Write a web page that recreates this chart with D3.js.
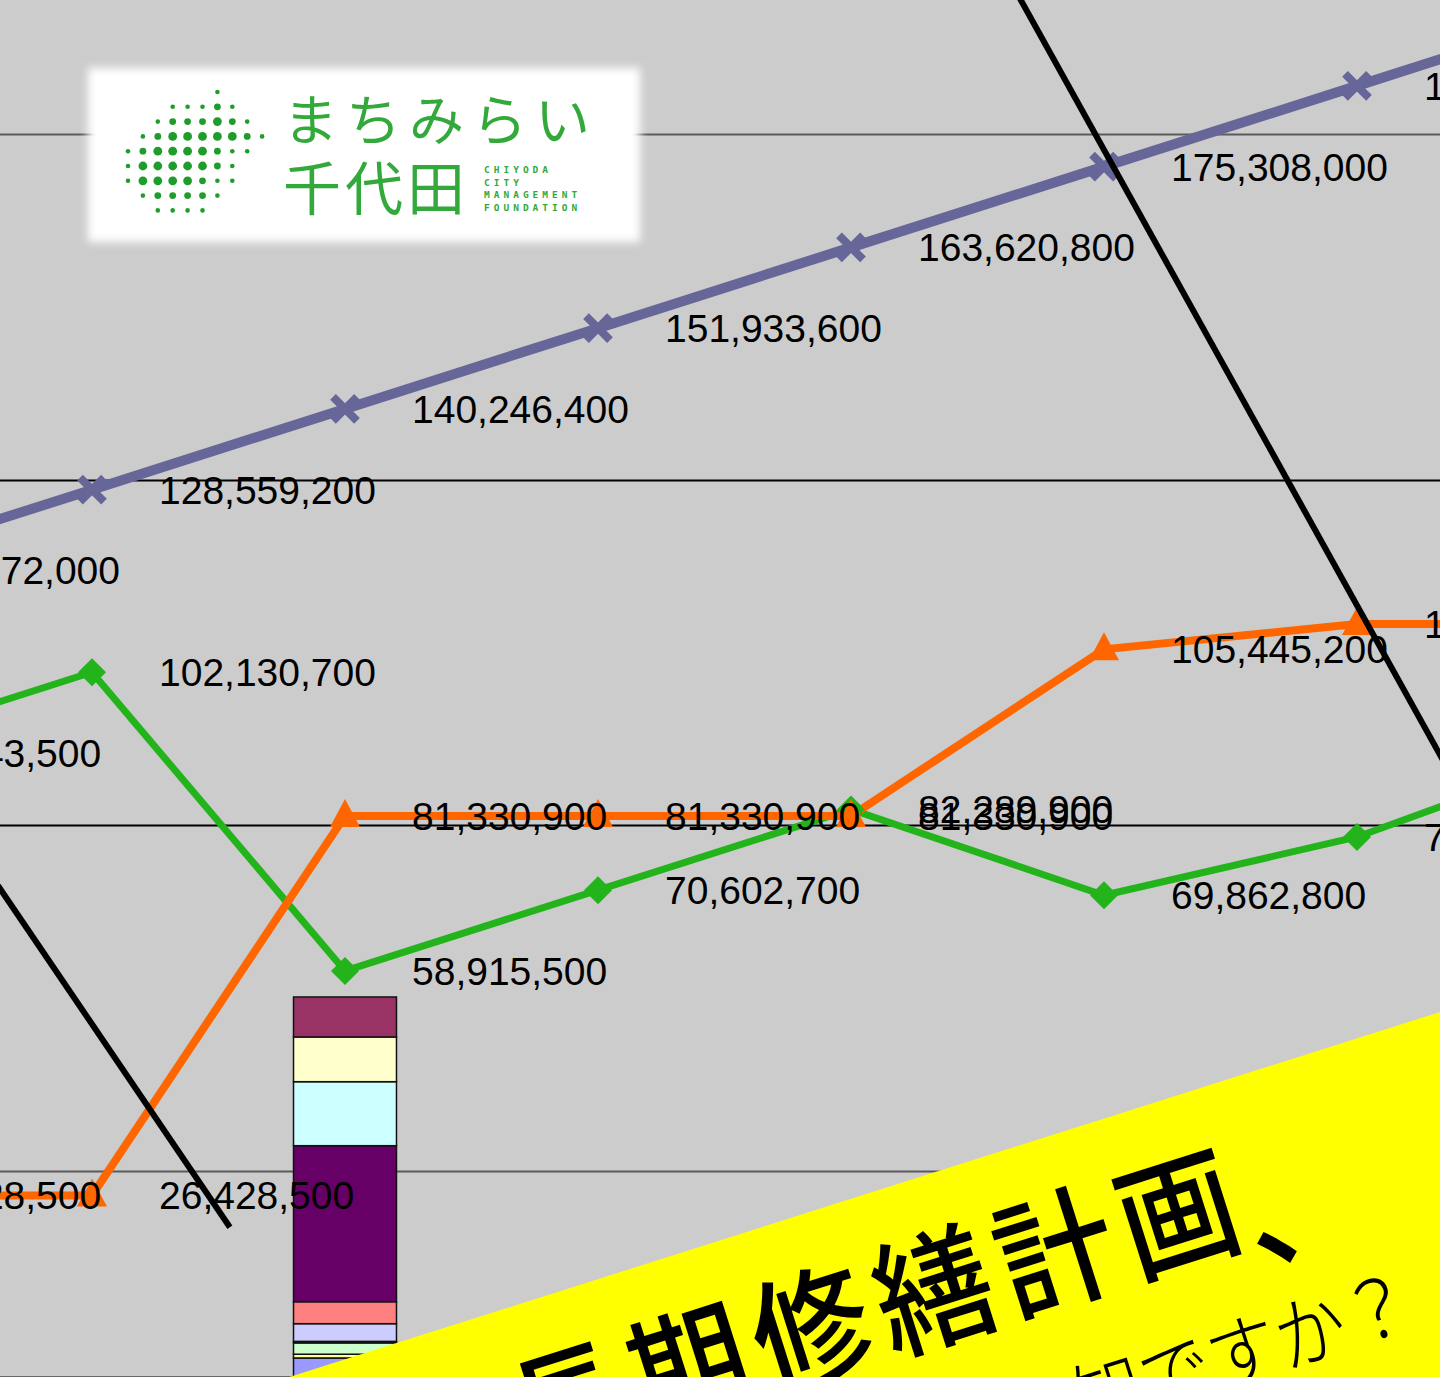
<!DOCTYPE html>
<html>
<head>
<meta charset="utf-8">
<script src="https://cdn.jsdelivr.net/npm/d3@7"></script>
<style>
  html, body { margin: 0; padding: 0; background: #cccccc; }
  svg { display: block; }
</style>
</head>
<body>
<svg id="chart" width="1440" height="1377"></svg>
<script>
// ---- data ----
const periods = [0, 1, 2, 3, 4, 5, 6, 7];               // category positions (labels off-screen)
const cumulativeCost = [116872000, 128559200, 140246400, 151933600, 163620800, 175308000, 186995200, 198682400];
const reserveBalance = [90443500, 102130700, 58915500, 70602700, 82289900, 69862800, 78300000, 91600000];
const reserveFund   = [26428500, 26428500, 81330900, 81330900, 81330900, 105445200, 109100000, 109100000];
const gridValues = [30000000, 80000000, 130000000, 180000000];
// stacked repair items for period 2 (bottom → top)
const barPeriod = 2;
const barItems  = ["項目1","項目2","項目3","項目4","項目5","項目6","項目7","項目8","項目9","項目10"];
const barValues = [2900000, 540000, 1640000, 220000, 2560000, 3180000, 22580000, 9260000, 6470000, 5790000];
const barColors = ["#9999ff","#ffff99","#ccffcc","#000080","#ccccff","#ff8080","#660066","#ccffff","#ffffcc","#993366"];
// black slash lines (period, value)
const slashLeft  = [[0.3, 88970000], [1.545, 21820000]];
const slashRight = [[4.5, 210700000], [6.5, 78840000]];
// banner text
const bannerTitle = "長期修繕計画";
const bannerComma = "、";
const bannerSub = "ご存知ですか？";
// logo
const logoLine1 = "まちみらい";
const logoLine2 = "千代田";
const logoSmall = ["CHIYODA", "CITY", "MANAGEMENT", "FOUNDATION"];
const logoDots = [
  "......s...",
  "...sssms..",
  "..smmmLms.",
  ".smLLLLLms",
  "smLLLLmss.",
  "sLLLLLms..",
  "sLLLLmss..",
  ".smmmms...",
  "..ssss...."
];

const W = 1440, H = 1377;
const svg = d3.select("#chart");

const x = d3.scaleLinear().domain([0, 7]).range([-161, 1610]);
const y = d3.scaleLinear().domain([0, 200000000]).range([1378, -4]);
const step = x(1) - x(0);

// background
svg.append("rect").attr("width", W).attr("height", H).attr("fill", "#cccccc");

// gridlines
svg.append("g").selectAll("line").data(gridValues).join("line")
  .attr("x1", 0).attr("x2", W)
  .attr("y1", d => Math.round(y(d)) + 0.5).attr("y2", d => Math.round(y(d)) + 0.5)
  .attr("stroke", (d, i) => (i === 0 || i === 3) ? "#5a5a5a" : "#000")
  .attr("stroke-width", 2);

// x axis baseline
svg.append("line").attr("x1", 0).attr("x2", W).attr("y1", y(0)).attr("y2", y(0))
  .attr("stroke", "#000").attr("stroke-width", 3);

// stacked bar
let acc = 0;
const stacks = barValues.map((v, i) => { const s = { y0: acc, y1: acc + v, color: barColors[i], name: barItems[i] }; acc += v; return s; });
const barW = step * 0.407;
svg.append("g").selectAll("rect").data(stacks).join("rect")
  .attr("x", x(barPeriod) - barW / 2)
  .attr("width", barW)
  .attr("y", d => y(d.y1))
  .attr("height", d => y(d.y0) - y(d.y1))
  .attr("fill", d => d.color)
  .attr("stroke", "#111").attr("stroke-width", 1.5);

// series
const series = [
  { values: reserveBalance, color: "#22b41a", width: 7, marker: "diamond" },
  { values: reserveFund,    color: "#ff6600", width: 8, marker: "triangle" },
  { values: cumulativeCost, color: "#666699", width: 10, marker: "x" }
];
const line = d3.line().x(d => x(d[0])).y(d => y(d[1]));

series.forEach(s => {
  const pts = periods.map((p, i) => [p, s.values[i]]);
  svg.append("path").datum(pts).attr("d", line)
    .attr("fill", "none").attr("stroke", s.color).attr("stroke-width", s.width)
    .attr("stroke-linejoin", "miter");
});

const markerPaths = {
  diamond: "M0,-14L14,0L0,14L-14,0Z",
  triangle: "M0,-17L15,11L-15,11Z"
};
series.forEach(s => {
  const g = svg.append("g");
  periods.forEach((p, i) => {
    const cx = x(p), cy = y(s.values[i]);
    if (s.marker === "x") {
      g.append("path").attr("d", "M-12,-12L12,12M-12,12L12,-12")
        .attr("transform", `translate(${cx},${cy})`)
        .attr("stroke", s.color).attr("stroke-width", 8).attr("fill", "none");
    } else {
      g.append("path").attr("d", markerPaths[s.marker])
        .attr("transform", `translate(${cx},${cy})`)
        .attr("fill", s.color);
    }
  });
});

// data labels
const fmt = d3.format(",");
series.forEach(s => {
  svg.append("g").selectAll("text").data(periods).join("text")
    .attr("x", p => x(p) + 67)
    .attr("y", (p, i) => y(s.values[i]) + 14)
    .attr("font-family", "'Liberation Sans', Arial, sans-serif")
    .attr("font-size", 39)
    .attr("fill", "#000")
    .text((p, i) => fmt(s.values[i]));
});

// black slash lines
[slashLeft, slashRight].forEach(seg => {
  svg.append("path").datum(seg).attr("d", line)
    .attr("fill", "none").attr("stroke", "#000").attr("stroke-width", 6);
});

// logo
const defs = svg.append("defs");
defs.append("filter").attr("id", "soft").attr("x", "-10%").attr("y", "-20%").attr("width", "120%").attr("height", "140%")
  .append("feGaussianBlur").attr("stdDeviation", 4);
const logo = svg.append("g");
logo.append("rect").attr("x", 88).attr("y", 68).attr("width", 552).attr("height", 174)
  .attr("fill", "#ffffff").attr("filter", "url(#soft)");
logo.append("rect").attr("x", 96).attr("y", 76).attr("width", 536).attr("height", 158).attr("fill", "#ffffff");
const dotR = { s: 2.3, m: 3.4, L: 4.4 };
logoDots.forEach((row, r) => {
  row.split("").forEach((c, k) => {
    if (c === ".") return;
    logo.append("circle").attr("cx", 128 + k * 14.9).attr("cy", 92 + r * 14.8)
      .attr("r", dotR[c]).attr("fill", "#1f9d2a");
  });
});
logo.append("text").attr("x", 283).attr("y", 140)
  .attr("font-family", "'Noto Sans CJK JP'").attr("font-weight", 400)
  .attr("font-size", 55).attr("letter-spacing", 8).attr("fill", "#34a93b").text(logoLine1);
logo.append("text").attr("x", 283).attr("y", 210)
  .attr("font-family", "'Noto Sans CJK JP'").attr("font-weight", 400)
  .attr("font-size", 58).attr("letter-spacing", 4).attr("fill", "#34a93b").text(logoLine2);
logoSmall.forEach((t, i) => {
  logo.append("text").attr("x", 484).attr("y", 173 + i * 12.7)
    .attr("font-family", "'DejaVu Sans Mono', monospace").attr("font-weight", "bold")
    .attr("font-size", 9.5).attr("letter-spacing", 4).attr("fill", "#34a93b").text(t);
});

// yellow banner
const angle = -17.6;
svg.append("rect").attr("x", -1500).attr("y", 0).attr("width", 1800).attr("height", 700)
  .attr("transform", `translate(1440,1012) rotate(${angle})`)
  .attr("fill", "#ffff00");
const title = svg.append("text")
  .attr("transform", `translate(526,1470) rotate(${angle}) scale(0.92,1)`)
  .attr("font-family", "'Noto Sans CJK JP'").attr("font-weight", 500)
  .attr("font-size", 128).attr("letter-spacing", 11).attr("fill", "#000");
title.append("tspan").text(bannerTitle);
title.append("tspan").attr("dy", 26).attr("dx", -8).text(bannerComma);
svg.append("text")
  .attr("transform", `translate(950,1476) rotate(${angle}) scale(0.88,1)`)
  .attr("font-family", "'Noto Sans CJK JP'").attr("font-weight", 300)
  .attr("font-size", 80).attr("fill", "#000").text(bannerSub);
</script>
</body>
</html>
